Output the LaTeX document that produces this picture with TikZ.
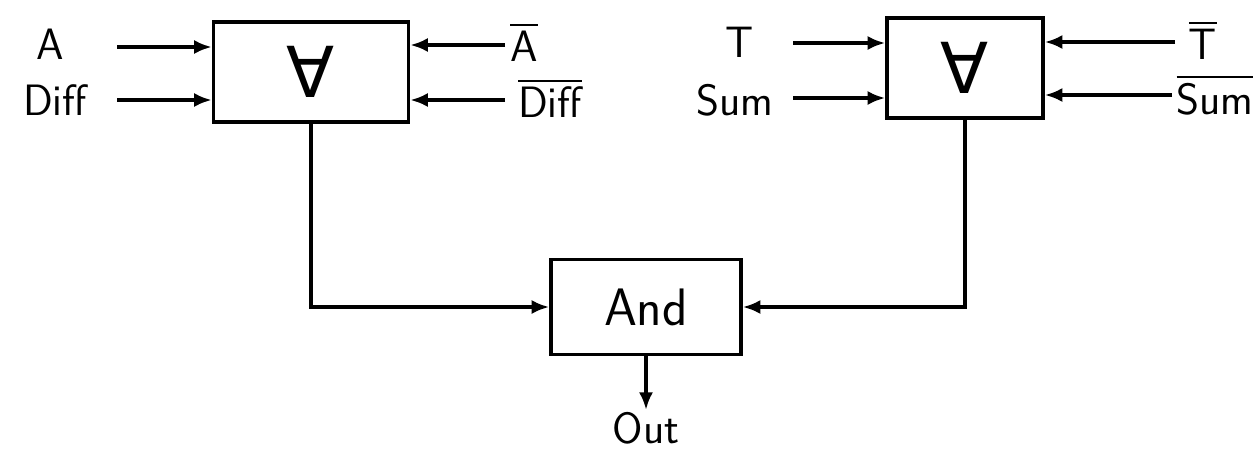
\documentclass[tikz,border=0pt]{standalone}
\usepackage{amsmath}
\usepackage{amssymb}
\usepackage{fontspec}
\newfontfamily\gatesymfont{DejaVu Sans}
\usepackage{tikz}
\usetikzlibrary{arrows.meta,positioning,calc}
\tikzset{
  gatebox/.style={
    rectangle, draw=black, line width=2pt, fill=white,
    align=center, inner sep=2pt
  },
  forallbox/.style={gatebox, minimum width=3.9cm, minimum height=2cm,
    font=\gatesymfont\fontsize{40}{44}\selectfont},
  andbox/.style={gatebox, minimum width=3.8cm, minimum height=1.9cm,
    font=\sffamily\fontsize{30}{34}\selectfont},
  siglabel/.style={font=\sffamily\fontsize{25}{28}\selectfont, inner sep=1pt},
  sigarrow/.style={-{Latex[length=10pt,width=8pt]}, line width=2pt, draw=black},
}
\begin{document}
\begin{tikzpicture}[x=0.02cm, y=-0.02cm]
  \useasboundingbox (0,0) rectangle (1260,457);
  % gates
  \node (xorL) [forallbox] at (311,72) {∀};
  \node (xorR) [forallbox, minimum width=3.12cm] at (965,68) {∀};
  \node (and) [andbox] at (646,307) {And};
  % labels
  \node (lA) [siglabel] at (50,44) {A};
  \node (lDiff) [siglabel] at (55,100) {Diff};
  \node (lAn) [siglabel] at (524,42) {$\overline{\text{\sffamily A}}$};
  \node (lDiffn) [siglabel] at (550,98) {$\overline{\text{\sffamily Diff}}$};
  \node (lT) [siglabel] at (740,42) {T};
  \node (lSum) [siglabel] at (735,100) {Sum};
  \node (lTn) [siglabel] at (1203,40) {$\overline{\text{\sffamily T}}$};
  \node (lSumn) [siglabel] at (1215,95) {$\overline{\text{\sffamily Sum}}$};
  \node (lOut) [siglabel] at (646,428) {Out};
  % free ends of the input arrows
  \coordinate (inA) at (117,47);
  \coordinate (inDiff) at (117,100);
  \coordinate (inAn) at (505,45);
  \coordinate (inDiffn) at (505,100);
  \coordinate (inT) at (793,43);
  \coordinate (inSum) at (793,98);
  \coordinate (inTn) at (1175,42);
  \coordinate (inSumn) at (1172,95);
  \draw[sigarrow] (inA) -- (inA -| xorL.west);
  \draw[sigarrow] (inDiff) -- (inDiff -| xorL.west);
  \draw[sigarrow] (inAn) -- (inAn -| xorL.east);
  \draw[sigarrow] (inDiffn) -- (inDiffn -| xorL.east);
  \draw[sigarrow] (inT) -- (inT -| xorR.west);
  \draw[sigarrow] (inSum) -- (inSum -| xorR.west);
  \draw[sigarrow] (inTn) -- (inTn -| xorR.east);
  \draw[sigarrow] (inSumn) -- (inSumn -| xorR.east);
  % into the And gate
  \draw[sigarrow] (xorL.south) |- (and.west);
  \draw[sigarrow] (xorR.south) |- (and.east);
  \draw[sigarrow] (and.south) -- (and.south |- lOut.north);
\end{tikzpicture}
\end{document}
